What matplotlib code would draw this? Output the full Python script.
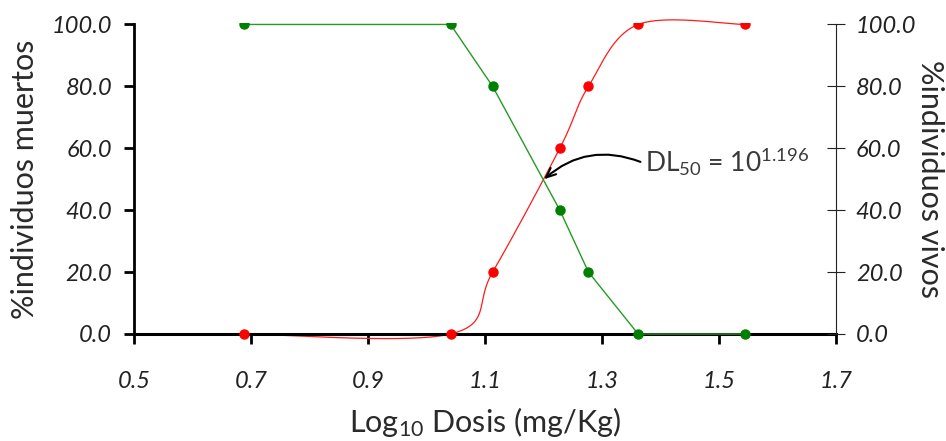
import matplotlib
matplotlib.use("Agg")
import matplotlib.pyplot as plt
from matplotlib.transforms import Bbox, TransformedBbox
import numpy as np

# log10 de la dosis y porcentajes
log_dosis = [0.688, 1.041, 1.113, 1.228, 1.277, 1.362, 1.544]
muertos = [0, 0, 20, 60, 80, 100, 100]
vivos = [100, 100, 80, 40, 20, 0, 0]
dl50 = 1.196
xticks = [0.5, 0.7, 0.9, 1.1, 1.3, 1.5, 1.7]
yticks = [0, 20, 40, 60, 80, 100]

plt.rcParams['font.family'] = ['Lato', 'DejaVu Sans']
plt.rcParams['mathtext.fontset'] = 'custom'
plt.rcParams['mathtext.rm'] = 'Lato'
plt.rcParams['mathtext.default'] = 'regular'


def smooth(xs, ys, n=40):
    # suavizado tipo Excel (Bezier de Catmull-Rom)
    pts = np.column_stack([xs, ys]).astype(float)
    out = []
    t = np.linspace(0, 1, n)[:, None]
    for i in range(len(pts) - 1):
        p0 = pts[max(i - 1, 0)]
        p1 = pts[i]
        p2 = pts[i + 1]
        p3 = pts[min(i + 2, len(pts) - 1)]
        c1 = p1 + (p2 - p0) / 6
        c2 = p2 - (p3 - p1) / 6
        seg = (1 - t)**3 * p1 + 3 * (1 - t)**2 * t * c1 + 3 * (1 - t) * t**2 * c2 + t**3 * p2
        out.append(seg)
    curve = np.vstack(out)
    return curve[:, 0], curve[:, 1]


fig = plt.figure(figsize=(9.46, 4.41), dpi=100)
ax = fig.add_axes([0.142, 0.2286, 0.7414, 0.730])
ax2 = ax.twinx()

for a in (ax, ax2):
    a.set_xlim(0.5, 1.7)
    a.set_ylim(-2, 102)
    a.spines['top'].set_visible(False)

# recorte: los puntos en 100 salen cortados arriba como en el original
clip_top = TransformedBbox(Bbox([[0.5, -3], [1.7, 100.35]]), ax.transData)

# muertos (rojo, curva suavizada)
cx, cy = smooth(log_dosis, muertos)
ax.plot(cx, cy, color='#ff1a1a', lw=0.9, zorder=2)
pts, = ax.plot(log_dosis, muertos, 'o', color='#ff0000', ms=6.5, zorder=3)
pts.set_clip_box(clip_top)

# vivos (verde)
ln, = ax2.plot(log_dosis, vivos, '-', color='#259a25', lw=1.0, zorder=2)
pts2, = ax2.plot(log_dosis, vivos, 'o', color='#008000', ms=6.5, zorder=3)
ln.set_clip_box(clip_top)
pts2.set_clip_box(clip_top)

ax.spines['bottom'].set_position(('data', 0))
ax.spines['bottom'].set_linewidth(2.2)
ax.spines['left'].set_bounds(0, 100)
ax.spines['left'].set_linewidth(2.0)
ax.spines['right'].set_visible(False)
for s in ('left', 'bottom'):
    ax2.spines[s].set_visible(False)
ax2.spines['right'].set_bounds(0, 100)
ax2.spines['right'].set_linewidth(0.8)
ax2.spines['right'].set_color('#222222')

tick_font = dict(style='italic', size=17, color='#222222')

ax.set_xticks(xticks)
ax.set_xticklabels([f'{v:.1f}' for v in xticks], **tick_font)
ax.set_yticks(yticks)
ax.set_yticklabels([f'{v:.1f}' for v in yticks], **tick_font)
ax2.set_yticks(yticks)
ax2.set_yticklabels([f'{v:.1f}' for v in yticks], **tick_font)

ax.tick_params(axis='x', direction='out', length=7, width=2, pad=20)
ax.tick_params(axis='y', direction='out', length=7, width=2, pad=9)
ax2.tick_params(axis='y', direction='inout', length=13, width=0.8, pad=8, color='#222222')

label_font = dict(size=22, color='#2a2a2a')
ax.set_ylabel('%individuos muertos', labelpad=9, **label_font)
ax2.set_ylabel('%individuos vivos', rotation=270, labelpad=20, **label_font)
ax.set_xlabel('Log$_{10}$ Dosis (mg/Kg)', labelpad=9, **label_font)

# flecha curva hacia la DL50
ax2.annotate('', xy=(dl50 + 0.005, 50), xytext=(1.366, 55.6),
             arrowprops=dict(arrowstyle='->,head_length=0.7,head_width=0.3',
                             color='black', lw=1.5,
                             connectionstyle='arc3,rad=0.3',
                             shrinkA=0, shrinkB=0))
ax2.text(1.374, 52.3, 'DL$_{50}$ = 10$^{%.3f}$' % dl50, ha='left', va='baseline',
         fontsize=19, color='#3a3a3a')

fig.savefig('out.png', dpi=100)
